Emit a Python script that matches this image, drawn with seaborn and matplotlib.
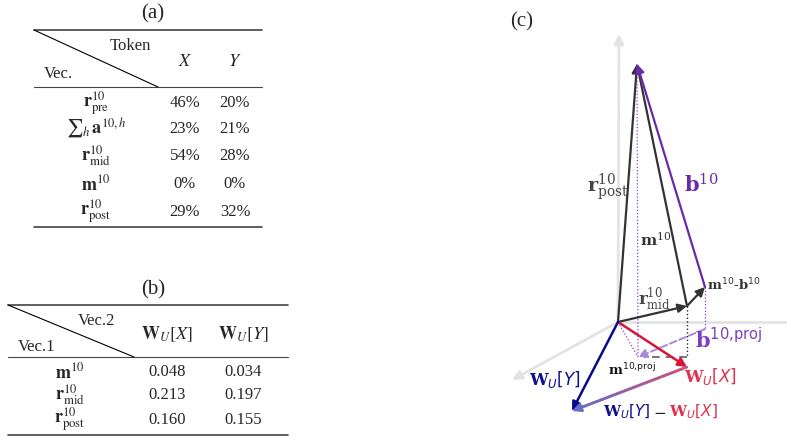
import numpy as np
import pandas as pd
import matplotlib
matplotlib.use('Agg')
import matplotlib.pyplot as plt
from matplotlib.collections import LineCollection
from matplotlib.colors import LinearSegmentedColormap
import seaborn as sns

# ---------------- data ----------------
# table (a): share of token per vector
tokens_a = [r'$X$', r'$Y$']
vecs_a = [r'$\mathbf{r}^{10}_{\mathrm{pre}}$', r'${\sum}_h\,\mathbf{a}^{10,h}$',
          r'$\mathbf{r}^{10}_{\mathrm{mid}}$', r'$\mathbf{m}^{10}$',
          r'$\mathbf{r}^{10}_{\mathrm{post}}$']
share_x = [46, 23, 54, 0, 29]
share_y = [20, 21, 28, 0, 32]

# table (b): dot products with unembedding
tokens_b = [r'$\mathbf{W}_U[X]$', r'$\mathbf{W}_U[Y]$']
vecs_b = [r'$\mathbf{m}^{10}$', r'$\mathbf{r}^{10}_{\mathrm{mid}}$', r'$\mathbf{r}^{10}_{\mathrm{post}}$']
dot_wx = [0.048, 0.213, 0.160]
dot_wy = [0.034, 0.197, 0.155]

# diagram (c): projected 2d coordinates of the vectors
origin = (0, 0)
axis_up = (1, 288)
axis_right = (169, 0)
axis_left = (-106, -58)
r_mid = (69, 16)
m_minus_b = (87, 35)
r_post = (19, 258)
m_proj = (20, -35)
b_proj_start = (87, -7)
r_mid_drop = (69, -35)
w_x = (69, -45)
w_y = (-46, -89)

sns.set_theme(style='white')
plt.rcParams['font.family'] = ['Liberation Serif', 'DejaVu Serif']
plt.rcParams['mathtext.fontset'] = 'stix'
# custom math font for the small diagram labels (serif bold letters, sans digits)
plt.rcParams['mathtext.rm'] = 'DejaVu Sans'
plt.rcParams['mathtext.it'] = 'DejaVu Sans:italic'
plt.rcParams['mathtext.bf'] = 'DejaVu Serif:bold'

fig = plt.figure(figsize=(7.87, 4.39), dpi=100)
bg = fig.add_axes([0, 0, 1, 1])
bg.set_xlim(0, 787)
bg.set_ylim(439, 0)
bg.axis('off')

rule = '#444444'
fs = 12


def draw_table(title, title_y, x0, x1, top, mid, bottom, corner, head, cols, col_x, rows, row_x, row_y, vals, fmt):
    bg.text((x0 + x1) / 2 + 5, title_y, title, ha='center', va='center', fontsize=15)
    bg.plot([x0, x1], [top, top], color=rule, lw=1.2)
    bg.plot([x0, x1], [mid, mid], color=rule, lw=0.8)
    bg.plot([x0, x1], [bottom, bottom], color=rule, lw=1.2)
    bg.plot([x0, corner], [top, mid], color='black', lw=0.8)
    (t1, p1), (t2, p2) = head
    bg.text(p1[0], p1[1], t1, ha='center', va='center', fontsize=fs)
    bg.text(p2[0], p2[1], t2, ha='center', va='center', fontsize=fs)
    hy = (top + mid) / 2 + 2
    for c, cx in zip(cols, col_x):
        bg.text(cx, hy, c, ha='center', va='center', fontsize=fs + 1)
    for i, (r, ry) in enumerate(zip(rows, row_y)):
        bg.text(row_x, ry, r, ha='center', va='center', fontsize=fs + 1)
        for j, cx in enumerate(col_x):
            bg.text(cx, ry, fmt(vals[j][i]), ha='center', va='center', fontsize=fs)


draw_table('(a)', 14, 34, 262, 31, 88, 228, 158,
           [('Token', (130, 46)), ('Vec.', (58, 74))],
           tokens_a, [185, 235], vecs_a, 96, [103, 129, 156, 184, 212],
           [share_x, share_y], lambda v: f'{v}%')

draw_table('(b)', 290, 8, 288, 306, 358, 436, 134,
           [('Vec.2', (97, 321)), ('Vec.1', (37, 347))],
           tokens_b, [167, 243], vecs_b, 70, [372, 395, 420],
           [dot_wx, dot_wy], lambda v: f'{v:.3f}')

bg.text(522, 22, '(c)', ha='center', va='center', fontsize=15)

# ---------------- diagram ----------------
ax = fig.add_axes([495 / 787, 0, 292 / 787, 1])
ax.set_xlim(-123, 169)
ax.set_ylim(-116, 323)
ax.axis('off')

def arrow(start, end, color, lw=1.6, ls='-', ms=13, z=3):
    ax.annotate('', xy=end, xytext=start, annotation_clip=False,
                arrowprops=dict(arrowstyle='-|>', color=color, lw=lw, linestyle=ls,
                                mutation_scale=ms, shrinkA=0, shrinkB=0),
                zorder=z)

axis_col = '#e3e3e3'
for tip in [axis_up, axis_left]:
    arrow(origin, tip, axis_col, lw=2, ms=14, z=1)
ax.plot([origin[0], axis_right[0]], [origin[1], axis_right[1]], color=axis_col, lw=2, zorder=1, clip_on=False)

# dotted drop lines
purple_drops = pd.DataFrame({
    'x': [r_post[0], m_proj[0], m_minus_b[0], b_proj_start[0], origin[0], m_proj[0]],
    'y': [r_post[1], m_proj[1], m_minus_b[1], b_proj_start[1], origin[1], m_proj[1]],
    'seg': [0, 0, 1, 1, 2, 2]})
sns.lineplot(data=purple_drops, x='x', y='y', units='seg', estimator=None, sort=False,
             color='#8a3fd0', lw=0.9, linestyle=':', ax=ax)
black_drop = pd.DataFrame({'x': [r_mid[0], r_mid_drop[0]], 'y': [r_mid[1], r_mid_drop[1]]})
sns.lineplot(data=black_drop, x='x', y='y', estimator=None, sort=False,
             color='#222222', lw=1.0, linestyle=':', ax=ax)
ax.plot([r_mid_drop[0], m_proj[0] + 6], [r_mid_drop[1], m_proj[1]], color='#777777', lw=1.4,
        ls=(0, (4, 3)), zorder=2)
ax.set_xlabel('')
ax.set_ylabel('')

dark = '#333333'
arrow(origin, r_post, dark)
arrow(r_mid, r_post, dark, ms=0.1)
arrow(origin, r_mid, dark)
arrow(r_mid, m_minus_b, dark)
arrow(m_minus_b, r_post, '#6a2aa8')
arrow(b_proj_start, m_proj, '#a98ad8', lw=1.4, ls='--')
arrow(origin, w_x, '#d7153a', lw=1.8)
arrow(origin, w_y, '#0a0a8a', lw=1.8)

# gradient W_U[Y] - W_U[X]
arrow(w_x, w_y, '#6c6cc4', lw=1.8)
n = 60
xs = np.linspace(w_x[0], w_y[0] + 0.085 * (w_x[0] - w_y[0]), n)
ys = np.linspace(w_x[1], w_y[1] + 0.085 * (w_x[1] - w_y[1]), n)
segs = np.stack([np.column_stack([xs[:-1], ys[:-1]]), np.column_stack([xs[1:], ys[1:]])], axis=1)
cmap = LinearSegmentedColormap.from_list('wu', ['#e0506e', '#6c6cc4'])
lc = LineCollection(segs, cmap=cmap, lw=2, zorder=4)
lc.set_array(np.linspace(0, 1, n - 1))
ax.add_collection(lc)

# labels
lab = dict(ha='center', va='center', family='DejaVu Serif', math_fontfamily='dejavuserif')
cus = dict(ha='center', va='center', family='DejaVu Sans', math_fontfamily='custom')
ax.text(-10, 136, r'$\mathbf{r}^{10}_{\mathrm{post}}$', color='#444444', fontsize=14, **lab)
ax.text(83, 138, r'$\mathbf{b}^{10}$', color='#6a2aa8', fontsize=15, **lab)
ax.text(38, 83, r'$\mathbf{m}^{10}$', color='#333333', fontsize=11, **lab)
ax.text(36, 23, r'$\mathbf{r}^{10}_{\mathrm{mid}}$', color='#444444', fontsize=12, **lab)
ax.text(116, 38, r'$\mathbf{m}^{10}$-$\mathbf{b}^{10}$', color='#333333', fontsize=9.5, **cus)
ax.text(111, -17, r'$\mathbf{b}^{10{,}\mathrm{proj}}$', color='#7b3fc0', fontsize=15, **cus)
ax.text(14, -47, r'$\mathbf{m}^{10{,}\mathrm{proj}}$', color='#111111', fontsize=9.5, **cus)
ax.text(-63, -57, r'$\mathbf{W}_U[Y]$', color='#10108c', fontsize=12, **cus)
ax.text(92, -54, r'$\mathbf{W}_U[X]$', color='#e0304f', fontsize=12, **cus)
cus2 = dict(cus)
cus2.pop('ha')
ax.text(33, -89, r'$\mathbf{W}_U[Y]$', color='#10108c', fontsize=11, ha='right', **cus2)
ax.text(42, -89, r'$-$', color='#222222', fontsize=11, ha='center', **cus2)
ax.text(51, -89, r'$\mathbf{W}_U[X]$', color='#e0304f', fontsize=11, ha='left', **cus2)

fig.savefig('out.png', dpi=100)
